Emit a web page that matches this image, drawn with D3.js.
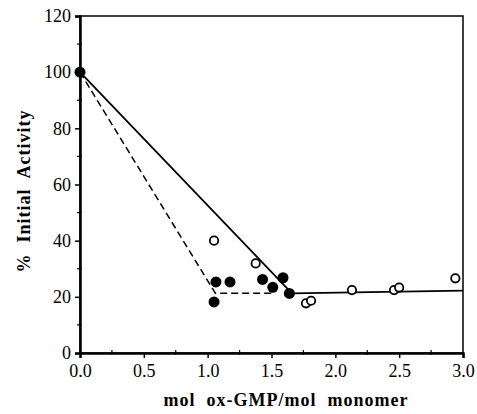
<!DOCTYPE html>
<html><head><meta charset="utf-8">
<script src="https://cdn.jsdelivr.net/npm/d3@7"></script>
<style>body{margin:0;background:#fff}svg{display:block}</style>
</head><body>
<script>
const filledX = [0.0, 1.05, 1.065, 1.175, 1.43, 1.51, 1.59, 1.64];
const filledY = [100, 18.2, 25.3, 25.3, 26.2, 23.4, 26.8, 21.2];
const openX = [1.05, 1.376, 1.77, 1.81, 2.13, 2.46, 2.5, 2.94];
const openY = [40, 31.9, 17.7, 18.6, 22.4, 22.4, 23.3, 26.6];
const solidX = [0.0, 1.66, 3.0];
const solidY = [100, 21.2, 22.2];
const dashX = [0.0, 1.06, 1.5];
const dashY = [100, 21.3, 21.3];
const xTicks = [0, 0.5, 1.0, 1.5, 2.0, 2.5, 3.0];
const yTicks = [0, 20, 40, 60, 80, 100, 120];
const xLabel = "mol  ox-GMP/mol  monomer";
const yLabel = "%  Initial  Activity";

const W = 477, H = 414;
const m = {l: 80, r: 14, t: 16, b: 61};
const svg = d3.select("body").append("svg").attr("width", W).attr("height", H);
const x = d3.scaleLinear().domain([0, 3]).range([m.l, W - m.r]);
const y = d3.scaleLinear().domain([0, 120]).range([H - m.b, m.t]);
const font = "'Liberation Serif','Times New Roman',serif";

// frame
svg.append("rect").attr("x", x(0)).attr("y", y(120)).attr("width", x(3) - x(0)).attr("height", y(0) - y(120))
  .attr("fill", "none").attr("stroke", "#000").attr("stroke-width", 1.5);

// axes
const xa = svg.append("g").attr("transform", `translate(0,${y(0)})`)
  .call(d3.axisBottom(x).tickValues(xTicks).tickFormat(d3.format(".1f")).tickSize(5).tickPadding(6));
const ya = svg.append("g").attr("transform", `translate(${x(0)},0)`)
  .call(d3.axisLeft(y).tickValues(yTicks).tickFormat(d3.format("d")).tickSize(5).tickPadding(4));
[xa, ya].forEach(g => {
  g.select(".domain").attr("stroke-width", 2.5);
  g.selectAll(".tick line").attr("stroke-width", 1.5);
  g.selectAll("text").attr("font-family", font).attr("font-size", 18).attr("fill", "#000");
});
// minor ticks
const xMinor = d3.range(0.25, 3, 0.5);
svg.append("g").selectAll("line").data(xMinor).join("line")
  .attr("x1", d => x(d)).attr("x2", d => x(d)).attr("y1", y(0) - 3).attr("y2", y(0) + 2)
  .attr("stroke", "#000").attr("stroke-width", 1.2);
const yMinor = d3.range(10, 120, 20);
svg.append("g").selectAll("line").data(yMinor).join("line")
  .attr("x1", x(0) - 3).attr("x2", x(0) + 2).attr("y1", d => y(d)).attr("y2", d => y(d))
  .attr("stroke", "#000").attr("stroke-width", 1.2);

// lines
const line = d3.line().x(d => x(d[0])).y(d => y(d[1]));
svg.append("path").datum(dashX.map((v, i) => [v, dashY[i]])).attr("d", line)
  .attr("fill", "none").attr("stroke", "#000").attr("stroke-width", 1.5).attr("stroke-dasharray", "7,4");
svg.append("path").datum(solidX.map((v, i) => [v, solidY[i]])).attr("d", line)
  .attr("fill", "none").attr("stroke", "#000").attr("stroke-width", 1.8);

// points
svg.append("g").selectAll("circle").data(openX.map((v, i) => [v, openY[i]])).join("circle")
  .attr("cx", d => x(d[0])).attr("cy", d => y(d[1])).attr("r", 4.2)
  .attr("fill", "#fff").attr("stroke", "#000").attr("stroke-width", 1.8);
svg.append("g").selectAll("circle").data(filledX.map((v, i) => [v, filledY[i]])).join("circle")
  .attr("cx", d => x(d[0])).attr("cy", d => y(d[1])).attr("r", 5.5).attr("fill", "#000");

// titles
svg.append("text").attr("x", 286).attr("y", 406).attr("text-anchor", "middle")
  .attr("font-family", font).attr("font-weight", "bold").attr("font-size", 18)
  .attr("letter-spacing", 1)
  .style("white-space", "pre").text(xLabel);
svg.append("text").attr("transform", "translate(30,191) rotate(-90)").attr("text-anchor", "middle")
  .attr("font-family", font).attr("font-weight", "bold").attr("font-size", 18)
  .attr("letter-spacing", 1)
  .style("white-space", "pre").text(yLabel);
</script>
</body></html>
